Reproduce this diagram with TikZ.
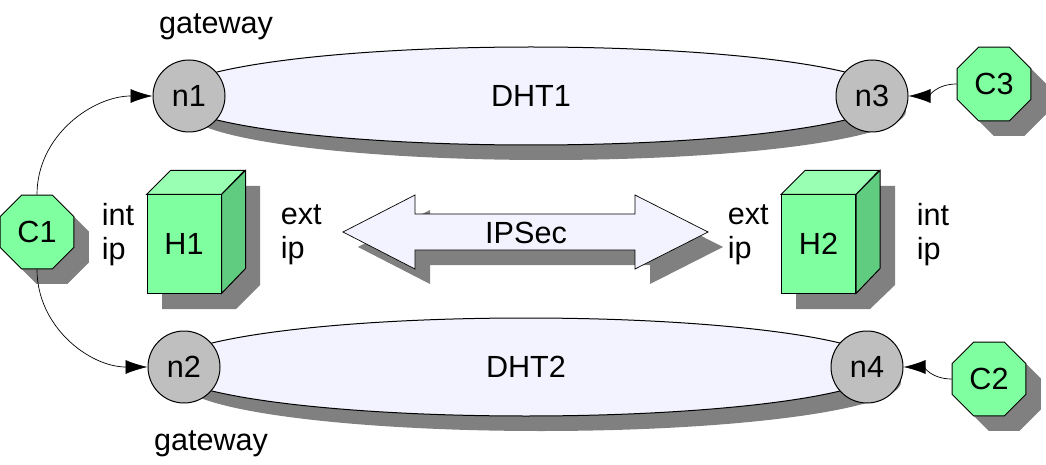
\documentclass[tikz,border=0pt]{standalone}
\usepackage{fontspec}
\setmainfont{Liberation Sans}
\usepackage{xcolor}
\usetikzlibrary{shapes,arrows.meta,shadows}
\definecolor{host-green}{RGB}{127,255,159}
\definecolor{host-top}{RGB}{153,255,178}
\definecolor{host-side}{RGB}{96,204,127}
\definecolor{dht-blue}{RGB}{243,243,255}
\definecolor{node-gray}{RGB}{191,191,191}
\definecolor{shadow-gray}{RGB}{128,128,128}
\tikzset{
  castshadow/.style={drop shadow={shadow xshift=15pt, shadow yshift=-15pt, opacity=1, fill=shadow-gray}},
  dhtring/.style={draw, ellipse, fill=dht-blue, minimum width=720pt, minimum height=98pt, inner sep=0pt, castshadow},
  gatenode/.style={draw, circle, fill=node-gray, minimum size=72pt, inner sep=0pt},
  clientnode/.style={draw, regular polygon, regular polygon sides=8, fill=host-green, minimum size=80pt, inner sep=0pt, castshadow},
  hostnode/.style={draw, rectangle, fill=host-green, minimum width=74pt, minimum height=98pt, inner sep=0pt},
  link/.style={-{Latex[length=22pt,width=14pt]}, line width=0.7pt}
}

\begin{document}
\begin{tikzpicture}[x=1pt, y=-1pt, line width=1pt, every node/.style={font=\fontsize{30.6}{34}\selectfont, align=left}]
  \useasboundingbox (0,0) rectangle (1046,465);

  % DHT rings
  \node[dhtring] (dht1) at (531,96) {DHT1};
  \node[dhtring] (dht2) at (526,367) {DHT2};

  % gateways and DHT members
  \node[gatenode] (n1) at (189,96) {n1};
  \node[gatenode] (n3) at (872,96) {n3};
  \node[gatenode] (n2) at (184,367) {n2};
  \node[gatenode] (n4) at (867,367) {n4};
  \node (gw1) at (216,27) {gateway};
  \node (gw2) at (211,444) {gateway};

  % clients
  \node[clientnode] (c1) at (37,232) {C1};
  \node[clientnode] (c3) at (994,84) {C3};
  \node[clientnode] (c2) at (989,379) {C2};

  % client links
  \draw[link] (c1.north) to[out=90, in=180] (n1.west);
  \draw[link] (c1.south) to[out=-90, in=180] (n2.west);
  \draw[link] (c3.west) to[out=180, in=0] (n3.east);
  \draw[link] (c2.west) to[out=180, in=0] (n4.east);

  % host H1
  \fill[shadow-gray] (162,210) -- (187,186) -- (260,186) -- (260,285) -- (236,309) -- (162,309) -- cycle;
  \node[hostnode] (h1) at (184,244) {H1};
  \draw[fill=host-top] (h1.north west) -- ++(24,-24) -- ++(74,0) -- (h1.north east) -- cycle;
  \draw[fill=host-side] (h1.north east) -- ++(24,-24) -- ++(0,98) -- (h1.south east) -- cycle;
  \node[anchor=west] (ip1) at (98,234.5) {int\\ip};
  \node[anchor=west] (ext1) at (277,234.5) {ext\\ip};

  % host H2
  \fill[shadow-gray] (796,210) -- (821,186) -- (895,186) -- (895,285) -- (870,309) -- (796,309) -- cycle;
  \node[hostnode] (h2) at (818.5,244) {H2};
  \draw[fill=host-top] (h2.north west) -- ++(24,-24) -- ++(74,0) -- (h2.north east) -- cycle;
  \draw[fill=host-side] (h2.north east) -- ++(24,-24) -- ++(0,98) -- (h2.south east) -- cycle;
  \node[anchor=west] (ext2) at (724,234.5) {ext\\ip};
  \node[anchor=west] (ip2) at (913,234.5) {int\\ip};

  % IPSec tunnel
  \draw[fill=dht-blue, line width=0.7pt, castshadow] (343,232) -- (415,195) -- (415,214) -- (635,214) -- (635,195) -- (708,232) -- (635,269) -- (635,250) -- (415,250) -- (415,269) -- cycle;
  \node (ipsec) at (526,233) {IPSec};
\end{tikzpicture}
\end{document}
